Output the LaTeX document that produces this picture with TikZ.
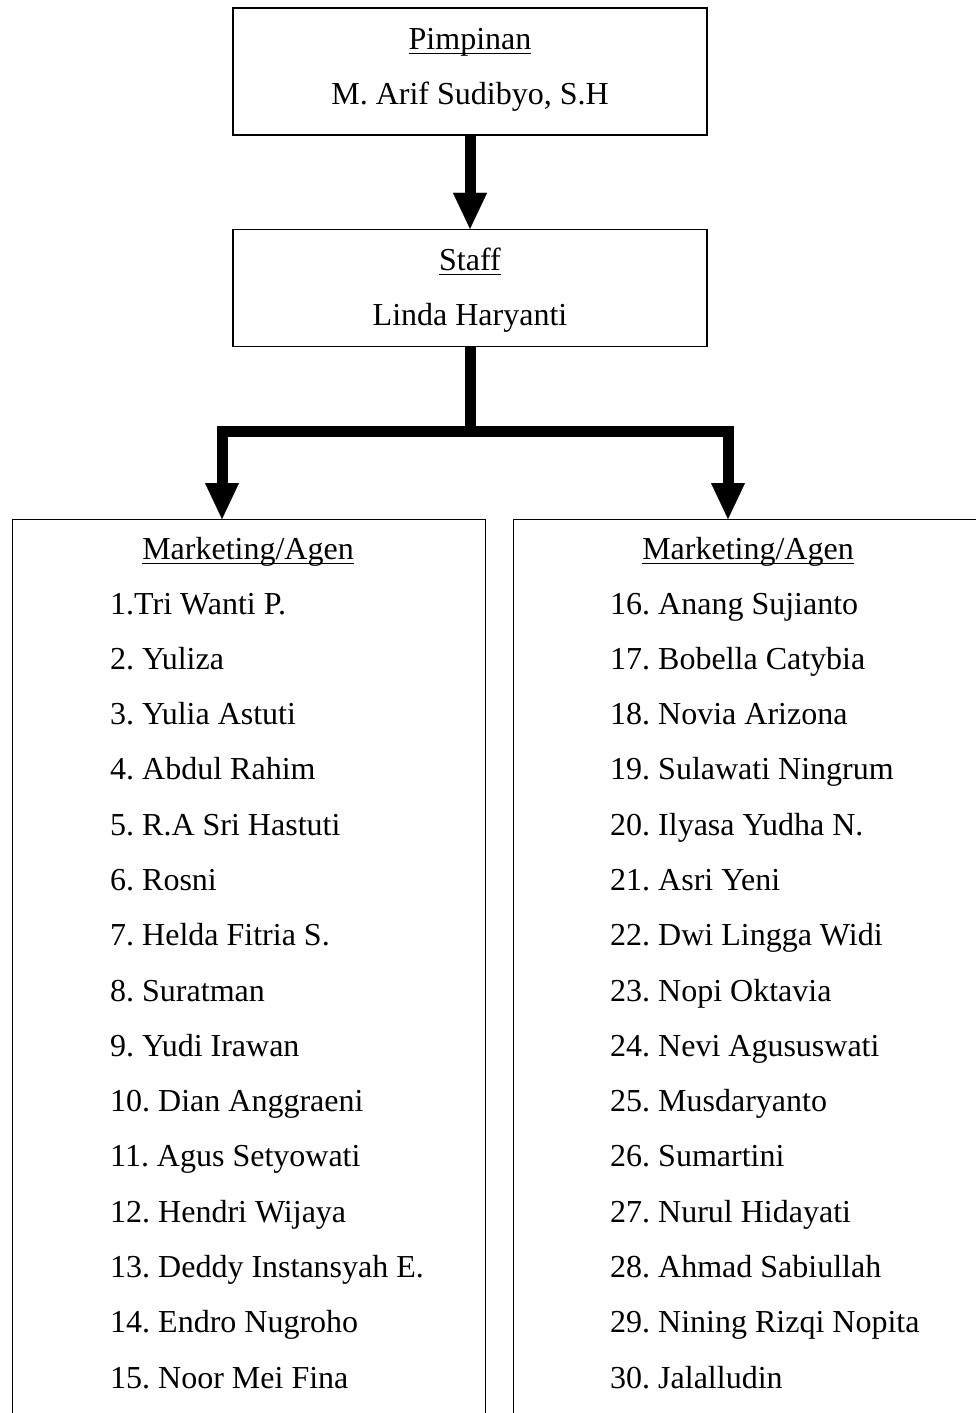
\documentclass[tikz,border=0pt]{standalone}
\usepackage{fontspec}
\setmainfont{Liberation Serif}
\usetikzlibrary{arrows.meta}
\frenchspacing
\newcommand\myul[1]{\setbox0\hbox{#1}\rlap{\rule[-5.2pt]{\wd0}{1.5pt}}\box0}
\tikzset{
  box/.style={draw=black, line width=1.3pt, rectangle, inner sep=0pt},
  txt/.style={inner sep=0pt, anchor=base, font=\fontsize{32}{38}\selectfont},
  item/.style={inner sep=0pt, anchor=base west, font=\fontsize{32}{38}\selectfont},
  arr/.style={line width=11pt, line join=miter, -{Triangle[width=34pt,length=36pt,line width=0.1pt]}}
}
\begin{document}
\begin{tikzpicture}[x=1pt,y=-1pt]
\useasboundingbox (0,0) rectangle (976,1413);
\clip (0,0) rectangle (976,1413);
\fill[white] (0,0) rectangle (976,1413);
% boxes
\node[box, minimum width=474pt, minimum height=127pt] (top) at (470,71.5) {};
\node[box, minimum width=474pt, minimum height=117pt] (staff) at (470,288) {};
\node[box, anchor=north west, minimum width=473pt, minimum height=1000pt] (left) at (12,519) {};
\node[box, anchor=north west, minimum width=470pt, minimum height=1000pt] (right) at (513,519) {};
% texts
\node[txt] (t1) at (470,49) {\myul{Pimpinan}};
\node[txt] (t2) at (470,104) {M. Arif Sudibyo, S.H};
\node[txt] (s1) at (470,270) {\myul{Staff}};
\node[txt] (s2) at (470,325) {Linda Haryanti};
\node[txt] (lh) at (248,559) {\myul{Marketing/Agen}};
\node[txt] (rh) at (748,559) {\myul{Marketing/Agen}};
\foreach \t [count=\i from 0] in {1.Tri Wanti P.,2. Yuliza,3. Yulia Astuti,4. Abdul Rahim,5. R.A Sri Hastuti,6. Rosni,7. Helda Fitria S.,8. Suratman,9. Yudi Irawan,10. Dian Anggraeni,11. Agus Setyowati,12. Hendri Wijaya,13. Deddy Instansyah E.,14. Endro Nugroho,15. Noor Mei Fina}
  \node[item] (l\i) at (110,614+55.29*\i) {\t};
\foreach \t [count=\i from 0] in {16. Anang Sujianto,17. Bobella Catybia,18. Novia Arizona,19. Sulawati Ningrum,20. Ilyasa Yudha N.,21. Asri Yeni,22. Dwi Lingga Widi,23. Nopi Oktavia,24. Nevi Agususwati,25. Musdaryanto,26. Sumartini,27. Nurul Hidayati,28. Ahmad Sabiullah,29. Nining Rizqi Nopita,30. Jalalludin}
  \node[item] (r\i) at (610,614+55.29*\i) {\t};
% connectors
\draw[arr] (top.south) -- (staff.north);
\coordinate (jn) at (470,431.5);
\coordinate (la) at (222,519);
\coordinate (ra) at (728,519);
\draw[line width=11pt] (staff.south) -- (jn);
\draw[arr] (jn) -| (la);
\draw[arr] (jn) -| (ra);
\end{tikzpicture}
\end{document}
